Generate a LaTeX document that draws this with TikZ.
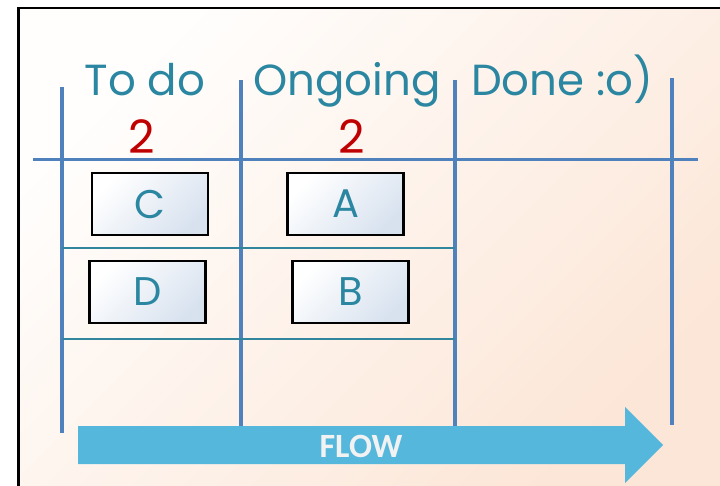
\documentclass[tikz,border=0pt]{standalone}
\usepackage{fontspec}
\setmainfont{Poppins}
\newfontfamily\flowfont{Carlito}

\definecolor{gridblue}{HTML}{4F81BD}
\definecolor{rowteal}{HTML}{31859C}
\definecolor{headteal}{HTML}{2B87A1}
\definecolor{countred}{HTML}{C00000}
\definecolor{flowblue}{HTML}{55B7DB}
\definecolor{flowtext}{HTML}{F2F2F2}
\definecolor{paperlight}{HTML}{FFFEFD}
\definecolor{paperpeach}{HTML}{FCE6D7}
\definecolor{cardlight}{HTML}{FFFFFF}
\definecolor{cardblue}{HTML}{D8E2EF}

\begin{document}
\begin{tikzpicture}[x=1pt,y=-1pt,
  colline/.style={gridblue, line width=3.6pt},
  rowline/.style={rowteal, line width=2.6pt},
  header/.style={text=headteal, font=\fontsize{43.5}{50}\selectfont, anchor=base, inner sep=0pt},
  count/.style={text=countred, font=\fontsize{46}{50}\selectfont, anchor=base, inner sep=0pt},
  card/.style={draw=black, line width=2.2pt, top color=cardlight, bottom color=cardblue,
    shading angle=45, minimum width=116pt, minimum height=62pt, inner sep=0pt,
    text=headteal, font=\fontsize{40}{44}\selectfont}]
\clip (0,0) rectangle (720,485);

% board background and frame
\shade[top color=paperlight, bottom color=paperpeach, shading angle=45]
  (18.5,8) rectangle (720,485);
\draw[line width=2.6pt] (18.5,520) -- (18.5,8) -- (760,8);

% column separators
\draw[colline] (62,87) -- (62,433);
\draw[colline] (241,80) -- (241,430);
\draw[colline] (455,80) -- (455,430);
\draw[colline] (672,78) -- (672,425);

% header rule and row rules
\draw[colline] (33,159.5) -- (698,159.5);
\draw[rowline] (62,248) -- (455,248);
\draw[rowline] (62,339) -- (455,339);

% column titles and WIP counts
\node[header] (todo) at (145,95) {To do};
\node[header] (ongoing) at (347,95) {Ongoing};
\node[header] (done) at (562,95) {Done :o)};
\node[count] (todocount) at (142,153) {2};
\node[count] (ongoingcount) at (352,153) {2};

% task cards
\node[card] (c) at (150,204) {C};
\node[card] (a) at (345.5,204) {A};
\node[card] (d) at (147.5,292) {D};
\node[card] (b) at (350.5,292) {B};

% flow arrow
\fill[flowblue] (78,426) -- (625,426) -- (625,407) -- (663,445)
  -- (625,483) -- (625,464) -- (78,464) -- cycle;
\node[anchor=base, inner sep=0pt, text=flowtext,
  font=\flowfont\bfseries\fontsize{34}{36}\selectfont] (flow) at (361,457) {FLOW};
\end{tikzpicture}
\end{document}
